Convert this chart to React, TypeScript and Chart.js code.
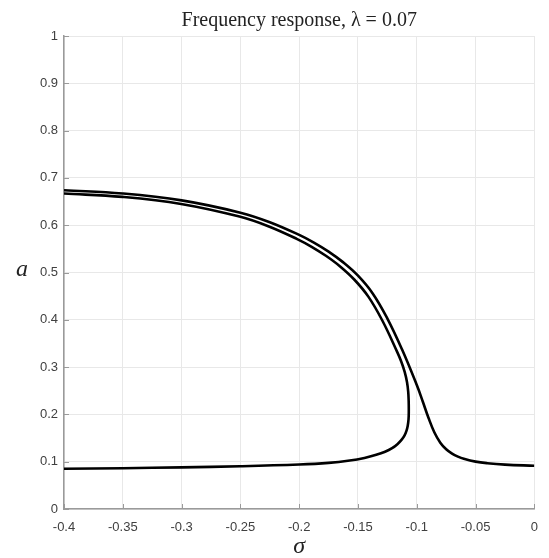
import React, { useEffect, useRef } from "react";
import { Chart, registerables } from "chart.js";

Chart.register(...registerables);

// Upper branch continuing down to the right-hand tail
const outerX = [-0.4, -0.35, -0.3, -0.25, -0.225, -0.2, -0.1875, -0.175, -0.1625, -0.15, -0.1375, -0.125, -0.1125, -0.1, -0.095, -0.09, -0.085, -0.08, -0.075, -0.07, -0.065, -0.06, -0.05, -0.04, -0.025, 0];
const outerY = [0.674, 0.667, 0.6525, 0.6265, 0.6064, 0.5795, 0.5633, 0.5442, 0.5214, 0.4933, 0.4558, 0.4027, 0.3371, 0.2621, 0.2278, 0.1923, 0.1618, 0.1403, 0.1263, 0.1171, 0.1107, 0.1061, 0.1001, 0.0968, 0.0939, 0.0913];

// Upper branch folding back at the turning point into the lower-left branch
const innerX = [-0.4, -0.3502, -0.3004, -0.2508, -0.2263, -0.2017, -0.1894, -0.1773, -0.1652, -0.1532, -0.1412, -0.1291, -0.1167, -0.1134, -0.1103, -0.1083, -0.1073, -0.1069, -0.1068, -0.107, -0.1077, -0.1088, -0.1105, -0.113, -0.1165, -0.121, -0.127, -0.1345, -0.1445, -0.157, -0.175, -0.2, -0.25, -0.3, -0.35, -0.4];
const innerY = [0.667, 0.6598, 0.645, 0.6183, 0.5979, 0.5707, 0.5544, 0.5353, 0.5128, 0.4852, 0.449, 0.3975, 0.3322, 0.313, 0.29, 0.268, 0.248, 0.228, 0.208, 0.19, 0.176, 0.165, 0.155, 0.146, 0.137, 0.1285, 0.121, 0.1145, 0.108, 0.1025, 0.0975, 0.094, 0.0903, 0.088, 0.0863, 0.085];

const xTickValues = [-0.4, -0.35, -0.3, -0.25, -0.2, -0.15, -0.1, -0.05, 0];
const xTickLabels = ["-0.4", "-0.35", "-0.3", "-0.25", "-0.2", "-0.15", "-0.1", "-0.05", "0"];
const yTickValues = [0, 0.1, 0.2, 0.3, 0.4, 0.5, 0.6, 0.7, 0.8, 0.9, 1];
const yTickLabels = ["0", "0.1", "0.2", "0.3", "0.4", "0.5", "0.6", "0.7", "0.8", "0.9", "1"];

const titleText = "Frequency response, λ = 0.07";
const xLabel = "σ";
const yLabel = "a";

const toPoints = (xs: number[], ys: number[]) => xs.map((x, i) => ({ x, y: ys[i] }));

const axisColor = "#9a9a9a";

const extrasPlugin = {
  id: "extras",
  afterDraw(chart: any) {
    const ctx = chart.ctx;
    const xs = chart.scales.x;
    const ys = chart.scales.y;
    const area = chart.chartArea;
    ctx.save();
    ctx.strokeStyle = axisColor;
    ctx.lineWidth = 1;
    ctx.beginPath();
    xTickValues.forEach((v) => {
      const px = Math.round(xs.getPixelForValue(v)) + 0.5;
      ctx.moveTo(px, area.bottom);
      ctx.lineTo(px, area.bottom - 5);
    });
    yTickValues.forEach((v) => {
      const py = Math.round(ys.getPixelForValue(v)) + 0.5;
      ctx.moveTo(area.left, py);
      ctx.lineTo(area.left + 5, py);
    });
    ctx.stroke();

    const cx = (area.left + area.right) / 2;
    ctx.fillStyle = "#222";
    ctx.textAlign = "center";
    ctx.textBaseline = "alphabetic";
    ctx.font = "20px 'Liberation Serif'";
    ctx.fillText(titleText, cx, 26);
    ctx.font = "italic 24px 'Liberation Serif'";
    ctx.fillText(xLabel, cx, 553);
    ctx.textBaseline = "middle";
    ctx.fillText(yLabel, 22, (area.top + area.bottom) / 2 - 3);
    ctx.restore();
  },
};

export default function App() {
  const ref = useRef<HTMLCanvasElement | null>(null);
  useEffect(() => {
    if (!ref.current) return;
    const lineStyle = {
      showLine: true,
      borderColor: "#000",
      borderWidth: 2.6,
      pointRadius: 0,
      tension: 0.4,
    };
    const chart = new Chart(ref.current, {
      type: "scatter",
      data: {
        datasets: [
          { data: toPoints(outerX, outerY), ...lineStyle },
          { data: toPoints(innerX, innerY), ...lineStyle },
        ],
      },
      options: {
        responsive: false,
        animation: false,
        layout: { padding: { left: 0, right: 6, top: 36, bottom: 0 } },
        plugins: {
          legend: { display: false },
          tooltip: { enabled: false },
          title: { display: false },
        },
        scales: {
          x: {
            type: "linear",
            min: -0.4,
            max: 0,
            afterBuildTicks: (s: any) => {
              s.ticks = xTickValues.map((value) => ({ value }));
            },
            afterFit: (s: any) => {
              s.height = 49;
            },
            ticks: {
              autoSkip: false,
              maxRotation: 0,
              padding: 11,
              color: "#404040",
              font: { family: "'Liberation Sans'", size: 13 },
              callback: (_v: any, i: number) => xTickLabels[i],
            },
            grid: { color: "#e8e8e8", lineWidth: 1, drawTicks: false },
            border: { color: axisColor, width: 1.5 },
          },
          y: {
            type: "linear",
            min: 0,
            max: 1,
            afterBuildTicks: (s: any) => {
              s.ticks = yTickValues.map((value) => ({ value }));
            },
            afterFit: (s: any) => {
              s.width = 64;
            },
            ticks: {
              autoSkip: false,
              padding: 6,
              color: "#404040",
              font: { family: "'Liberation Sans'", size: 13 },
              callback: (_v: any, i: number) => yTickLabels[i],
            },
            grid: { color: "#e8e8e8", lineWidth: 1, drawTicks: false },
            border: { color: axisColor, width: 1.5 },
          },
        },
      },
      plugins: [extrasPlugin],
    });
    return () => chart.destroy();
  }, []);
  return (
    <div style={{ position: "absolute", left: 0, top: 0, width: 549, height: 558, background: "#fff" }}>
      <canvas ref={ref} width={549} height={558} />
    </div>
  );
}
